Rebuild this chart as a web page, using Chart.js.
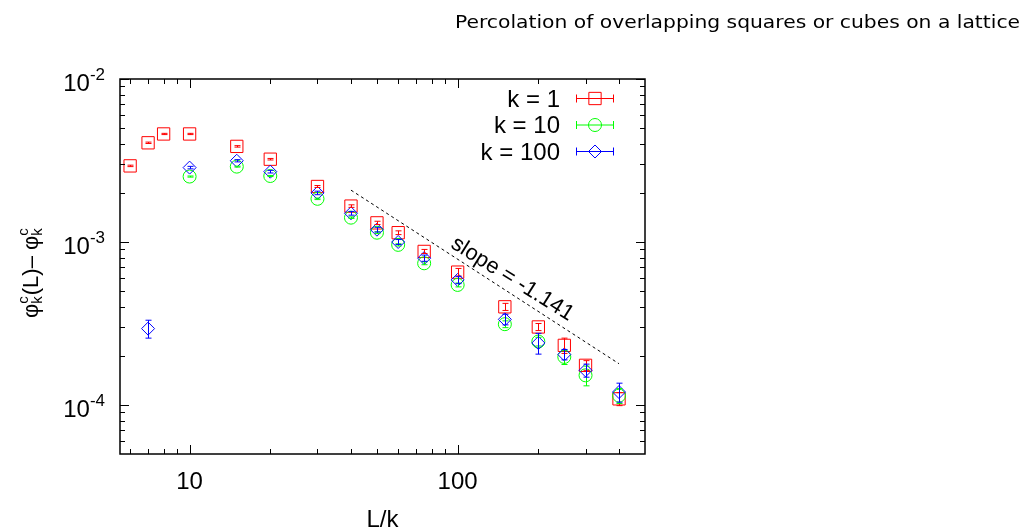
<!DOCTYPE html>
<html>
<head>
<meta charset="utf-8">
<script src="https://cdn.jsdelivr.net/npm/chart.js@4.4.1/dist/chart.umd.min.js"></script>
<style>
  html, body { margin: 0; padding: 0; background: #fff; }
  canvas { display: block; }
</style>
</head>
<body>
<canvas id="chart" width="1027" height="529"></canvas>
<script>
// k = 1 (red squares)
const xK1 = [6, 7, 8, 10, 15, 20, 30, 40, 50, 60, 75, 100, 150, 200, 250, 300, 400];
const yK1 = [2.93e-3, 4.06e-3, 4.6e-3, 4.6e-3, 3.86e-3, 3.22e-3, 2.19e-3, 1.66e-3, 1.31e-3, 1.14e-3, 8.75e-4, 6.53e-4, 4.0e-4, 3.01e-4, 2.32e-4, 1.75e-4, 1.09e-4];
const errK1 = [3e-5, 4e-5, 4e-5, 4e-5, 4e-5, 3.5e-5, 3e-5, 3e-5, 3e-5, 3e-5, 2.5e-5, 3.5e-5, 2e-5, 1.5e-5, 2.5e-5, 1.2e-5, 1e-5];

// k = 10 (green circles)
const xK10 = [10, 15, 20, 30, 40, 50, 60, 75, 100, 150, 200, 250, 300, 400];
const yK10 = [2.52e-3, 2.9e-3, 2.54e-3, 1.84e-3, 1.41e-3, 1.14e-3, 9.6e-4, 7.4e-4, 5.45e-4, 3.13e-4, 2.45e-4, 1.97e-4, 1.52e-4, 1.14e-4];
const errK10 = [2e-5, 2e-5, 2e-5, 2e-5, 1.5e-5, 1.5e-5, 1.5e-5, 1.5e-5, 1.5e-5, 1.5e-5, 1.5e-5, 2e-5, 2.1e-5, 1.2e-5];

// k = 100 (blue diamonds)
const xK100 = [7, 10, 15, 20, 30, 40, 50, 60, 75, 100, 150, 200, 250, 300, 400];
const yK100 = [2.94e-4, 2.86e-3, 3.15e-3, 2.7e-3, 2.0e-3, 1.5e-3, 1.19e-3, 1.0e-3, 7.96e-4, 5.85e-4, 3.35e-4, 2.4e-4, 2.04e-4, 1.63e-4, 1.2e-4];
const errK100 = [3.7e-5, 5e-5, 5e-5, 5e-5, 5e-5, 4e-5, 4e-5, 3.5e-5, 3.5e-5, 3e-5, 2.5e-5, 3.5e-5, 1.5e-5, 1.5e-5, 1.6e-5];

// guide line
const slopeX = [40, 400];
const slopeY = [2.08e-3, 1.79e-4];
const slopeLabel = 'slope = -1.141';
const slopeLabelAt = { x: 160, y: 5.93e-4 };

// axes
const xMin = 5.5, xMax = 500;
const yMin = 5e-5, yMax = 1e-2;
const xTickValues = [10, 100];
const xTickLabels = ['10', '100'];
const yTickValues = [1e-4, 1e-3, 1e-2];
const yTickLabels = [['10', '-4'], ['10', '-3'], ['10', '-2']];

const titleText = 'Percolation of overlapping squares or cubes on a lattice';
const xTitle = 'L/k';

const FONT = "'Liberation Sans', Arial, sans-serif";

function pts(xs, ys) {
  return xs.map((x, i) => ({ x: x, y: ys[i] }));
}

function drawMarker(ctx, style, x, y, r) {
  ctx.beginPath();
  if (style === 'rect') {
    const s = r * Math.SQRT1_2;
    ctx.rect(x - s, y - s, 2 * s, 2 * s);
  } else if (style === 'circle') {
    ctx.arc(x, y, r, 0, Math.PI * 2);
  } else {
    ctx.moveTo(x, y - r);
    ctx.lineTo(x + r, y);
    ctx.lineTo(x, y + r);
    ctx.lineTo(x - r, y);
    ctx.closePath();
  }
  ctx.stroke();
}

// vertical error bars with small caps
const errorBars = {
  id: 'errorBars',
  afterDatasetsDraw(chart) {
    const ctx = chart.ctx;
    const xs = chart.scales.x, ys = chart.scales.y;
    ctx.save();
    ctx.lineWidth = 1;
    chart.data.datasets.forEach(ds => {
      if (!ds.errors) return;
      ctx.strokeStyle = ds.borderColor;
      ds.data.forEach((p, j) => {
        const e = ds.errors[j];
        const px = Math.round(xs.getPixelForValue(p.x)) + 0.5;
        const top = ys.getPixelForValue(p.y + e);
        const bot = ys.getPixelForValue(p.y - e);
        ctx.beginPath();
        ctx.moveTo(px, top); ctx.lineTo(px, bot);
        ctx.moveTo(px - 3, top); ctx.lineTo(px + 3, top);
        ctx.moveTo(px - 3, bot); ctx.lineTo(px + 3, bot);
        ctx.stroke();
      });
    });
    ctx.restore();
  }
};

// frame, inward ticks, tick labels, titles, legend, slope note
const decorations = {
  id: 'decorations',
  afterDraw(chart) {
    const ctx = chart.ctx;
    const a = chart.chartArea;
    const xs = chart.scales.x, ys = chart.scales.y;
    ctx.save();
    ctx.strokeStyle = '#000';
    ctx.fillStyle = '#000';

    // frame
    ctx.lineWidth = 1.5;
    ctx.strokeRect(a.left, a.top, a.right - a.left, a.bottom - a.top);

    // ticks
    ctx.lineWidth = 1;
    ctx.beginPath();
    for (let e = Math.floor(Math.log10(xMin)); e <= Math.ceil(Math.log10(xMax)); e++) {
      for (let m = 1; m <= 9; m++) {
        const v = m * Math.pow(10, e);
        if (v <= xMin || v >= xMax) continue;
        const px = Math.round(xs.getPixelForValue(v)) + 0.5;
        const len = m === 1 ? 9 : 5;
        ctx.moveTo(px, a.bottom); ctx.lineTo(px, a.bottom - len);
        ctx.moveTo(px, a.top); ctx.lineTo(px, a.top + len);
      }
    }
    for (let e = Math.floor(Math.log10(yMin)); e <= Math.ceil(Math.log10(yMax)); e++) {
      for (let m = 1; m <= 9; m++) {
        const v = m * Math.pow(10, e);
        if (v < yMin * 1.001 || v > yMax * 1.001) continue;
        const py = Math.round(ys.getPixelForValue(v)) + 0.5;
        const len = m === 1 ? 9 : 5;
        ctx.moveTo(a.left, py); ctx.lineTo(a.left + len, py);
        ctx.moveTo(a.right, py); ctx.lineTo(a.right - len, py);
      }
    }
    ctx.stroke();

    // x tick labels
    ctx.font = '24px ' + FONT;
    ctx.textAlign = 'center';
    ctx.textBaseline = 'alphabetic';
    xTickValues.forEach((v, i) => {
      ctx.fillText(xTickLabels[i], xs.getPixelForValue(v), a.bottom + 35);
    });

    // y tick labels: 10 with superscript exponent
    yTickValues.forEach((v, i) => {
      const py = ys.getPixelForValue(v);
      const [base, exp] = yTickLabels[i];
      ctx.font = '17px ' + FONT;
      const we = ctx.measureText(exp).width;
      const xe = a.left - 15 - we;
      ctx.textAlign = 'left';
      ctx.fillText(exp, xe, py + 1);
      ctx.font = '24px ' + FONT;
      ctx.textAlign = 'right';
      ctx.fillText(base, xe, py + 12);
    });

    // x axis title
    ctx.font = '24px ' + FONT;
    ctx.textAlign = 'center';
    ctx.fillText(xTitle, (a.left + a.right) / 2, 527);

    // y axis title: phi_k^c(L) - phi_k^c, rotated
    ctx.save();
    ctx.translate(38, 318);
    ctx.rotate(-Math.PI / 2);
    ctx.textAlign = 'left';
    let p = 0;
    const phiScript = () => {
      ctx.font = '15px ' + FONT;
      const wk = ctx.measureText('k').width;
      const wc = ctx.measureText('c').width;
      ctx.fillText('k', p, 4);
      ctx.fillText('c', p, -10);
      p += Math.max(wk, wc) + 1;
    };
    ctx.font = '22px ' + FONT;
    ctx.fillText('\u03c6', p, 0);
    p += ctx.measureText('\u03c6').width;
    phiScript();
    ctx.font = '22px ' + FONT;
    const mid = '(L)\u2013 \u03c6';
    ctx.fillText(mid, p, 0);
    p += ctx.measureText(mid).width;
    phiScript();
    ctx.restore();

    // chart title, stretched to the reference width
    ctx.save();
    ctx.font = "18px 'DejaVu Sans', sans-serif";
    ctx.textAlign = 'left';
    const tw = ctx.measureText(titleText).width;
    ctx.translate(455, 28);
    ctx.scale(565 / tw, 1);
    ctx.fillText(titleText, 0, 0);
    ctx.restore();

    // legend, text on the left, sample on the right
    ctx.font = '24px ' + FONT;
    ctx.textAlign = 'right';
    chart.data.datasets.forEach((ds, i) => {
      if (!ds.errors) return;
      const ry = a.top + 19 + i * 26.5;
      ctx.fillStyle = '#000';
      ctx.fillText(ds.label, 560, ry + 8.5);
      ctx.strokeStyle = ds.borderColor;
      ctx.lineWidth = 1;
      ctx.beginPath();
      ctx.moveTo(576, ry + 0.5); ctx.lineTo(614, ry + 0.5);
      ctx.moveTo(576.5, ry - 3.5); ctx.lineTo(576.5, ry + 4.5);
      ctx.moveTo(613.5, ry - 3.5); ctx.lineTo(613.5, ry + 4.5);
      ctx.stroke();
      drawMarker(ctx, ds.pointStyle, 595, ry + 0.5, ds.pointRadius);
    });

    // slope annotation
    ctx.save();
    ctx.fillStyle = '#000';
    ctx.translate(xs.getPixelForValue(slopeLabelAt.x), ys.getPixelForValue(slopeLabelAt.y));
    ctx.rotate(32 * Math.PI / 180);
    ctx.font = '22px ' + FONT;
    ctx.textAlign = 'center';
    ctx.textBaseline = 'middle';
    ctx.fillText(slopeLabel, 0, 0);
    ctx.restore();

    ctx.restore();
  }
};

const ctx = document.getElementById('chart').getContext('2d');
new Chart(ctx, {
  type: 'scatter',
  data: {
    datasets: [
      {
        label: 'k = 1',
        data: pts(xK1, yK1),
        errors: errK1,
        pointStyle: 'rect',
        pointRadius: 8.7,
        borderColor: '#ff0000',
        backgroundColor: 'rgba(0,0,0,0)',
        borderWidth: 1,
        order: 3
      },
      {
        label: 'k = 10',
        data: pts(xK10, yK10),
        errors: errK10,
        pointStyle: 'circle',
        pointRadius: 6.5,
        borderColor: '#00ff00',
        backgroundColor: 'rgba(0,0,0,0)',
        borderWidth: 1,
        order: 2
      },
      {
        label: 'k = 100',
        data: pts(xK100, yK100),
        errors: errK100,
        pointStyle: 'rectRot',
        pointRadius: 6.5,
        borderColor: '#0000ff',
        backgroundColor: 'rgba(0,0,0,0)',
        borderWidth: 1,
        order: 1
      },
      {
        type: 'line',
        label: 'slope',
        data: pts(slopeX, slopeY),
        showLine: true,
        pointRadius: 0,
        borderColor: '#000',
        borderWidth: 1,
        borderDash: [3, 3],
        order: 4
      }
    ]
  },
  options: {
    responsive: false,
    animation: false,
    layout: { padding: { left: 0, top: 79, right: 382, bottom: 0 } },
    plugins: {
      legend: { display: false },
      tooltip: { enabled: false },
      title: { display: false }
    },
    scales: {
      x: {
        type: 'logarithmic',
        min: xMin,
        max: xMax,
        ticks: { display: false },
        grid: { display: false },
        border: { display: false },
        afterFit(scale) { scale.height = 75; }
      },
      y: {
        type: 'logarithmic',
        min: yMin,
        max: yMax,
        ticks: { display: false },
        grid: { display: false },
        border: { display: false },
        afterFit(scale) { scale.width = 120; }
      }
    }
  },
  plugins: [errorBars, decorations]
});
</script>
</body>
</html>
